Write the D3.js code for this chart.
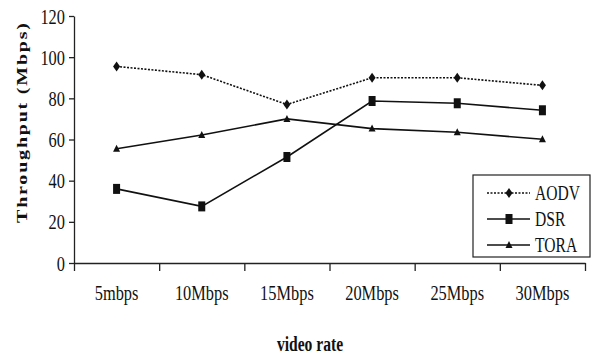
<!DOCTYPE html>
<html>
<head>
<meta charset="utf-8">
<script src="https://cdn.jsdelivr.net/npm/d3@7"></script>
<style>
  body { margin: 0; background: #fff; }
</style>
</head>
<body>
<div class="chart"></div>
<script>
// data
var rates = ["5mbps", "10Mbps", "15Mbps", "20Mbps", "25Mbps", "30Mbps"];
var aodv = [95.5, 91.5, 77, 90, 90, 86.3];
var dsr  = [36, 27.5, 51.5, 78.7, 77.6, 74.2];
var tora = [55.5, 62.2, 70, 65.3, 63.5, 60.1];
var yTicks = [0, 20, 40, 60, 80, 100, 120];

var width = 592,
    height = 356,
    sx = 0.78, // the original type is squeezed sideways
    font = "'Liberation Serif', 'Times New Roman', serif";

var svg = d3.select(".chart").append("svg")
    .attr("width", width)
    .attr("height", height);

var x = d3.scaleBand().domain(rates).range([74, 585]);
var edge = d3.scaleLinear().domain([0, rates.length]).range([74, 585]);
var y = d3.scaleLinear().domain([0, 120]).range([263, 16]);

function cx(d, i) { return x(rates[i]) + x.bandwidth() / 2; }

// y axis
var yAxis = svg.append("g")
    .attr("transform", "translate(74,0)")
    .call(d3.axisLeft(y).tickValues(yTicks).tickSize(5).tickSizeOuter(0));
yAxis.attr("font-family", font).attr("font-size", 20);
yAxis.selectAll("path, line").attr("stroke", "#222").attr("stroke-width", 1.3);
yAxis.selectAll("text")
    .attr("x", null).attr("dy", null)
    .attr("transform", "translate(-9,7) scale(" + sx + ",1)")
    .style("font-family", font)
    .style("font-size", "21px")
    .attr("fill", "#111");

// x axis: ticks at band edges, labels at band centres
var xAxis = svg.append("g")
    .attr("transform", "translate(0,263)")
    .call(d3.axisBottom(edge).ticks(rates.length).tickSize(8).tickSizeOuter(0).tickFormat(""));
xAxis.selectAll("path, line").attr("stroke", "#222").attr("stroke-width", 1.3);

svg.append("g").selectAll("text")
    .data(rates)
  .enter().append("text")
    .attr("text-anchor", "middle")
    .attr("fill", "#111")
    .attr("transform", function(d, i) { return "translate(" + cx(d, i) + ",300) scale(" + sx + ",1)"; })
    .style("font-family", font)
    .style("font-size", "21px")
    .text(function(d) { return d; });

// axis titles
svg.append("text")
    .attr("text-anchor", "middle")
    .attr("fill", "#111")
    .attr("transform", "translate(310,351) scale(0.78,1)")
    .style("font-family", font)
    .style("font-size", "20px")
    .style("font-weight", "bold")
    .text("video rate");

svg.append("text")
    .attr("text-anchor", "middle")
    .attr("fill", "#111")
    .attr("transform", "translate(27,123) rotate(-90) scale(1,0.78)")
    .attr("textLength", 200)
    .attr("lengthAdjust", "spacing")
    .style("font-family", font)
    .style("font-size", "20px")
    .style("font-weight", "bold")
    .text("Throughput (Mbps)");

// series
var line = d3.line()
    .x(function(d, i) { return cx(d, i); })
    .y(function(d) { return y(d); });

var series = [
  { name: "AODV", values: aodv, dash: "2,1.5", mark: "diamond" },
  { name: "DSR",  values: dsr,  dash: null,    mark: "square" },
  { name: "TORA", values: tora, dash: null,    mark: "triangle" }
];

function marker(g, type) {
  if (type === "diamond") {
    g.append("path").attr("d", "M0,-5L3.5,0L0,5L-3.5,0Z");
  } else if (type === "square") {
    g.append("rect").attr("x", -3.5).attr("y", -5).attr("width", 7).attr("height", 10);
  } else {
    g.append("path").attr("d", "M0,-4L3.5,3L-3.5,3Z");
  }
}

series.forEach(function(s) {
  svg.append("path")
      .datum(s.values)
      .attr("fill", "none")
      .attr("stroke", "#111")
      .attr("stroke-width", 1.6)
      .attr("stroke-dasharray", s.dash)
      .attr("d", line);

  s.values.forEach(function(v, i) {
    var g = svg.append("g")
        .attr("fill", "#111")
        .attr("transform", "translate(" + cx(v, i) + "," + y(v) + ")");
    marker(g, s.mark);
  });
});

// legend
var legend = svg.append("g").attr("transform", "translate(473,175)");
legend.append("rect")
    .attr("width", 117).attr("height", 82)
    .attr("fill", "#fff").attr("stroke", "#222").attr("stroke-width", 1.2);

series.forEach(function(s, i) {
  var ly = 18 + i * 26;
  legend.append("line")
      .attr("x1", 14).attr("x2", 57)
      .attr("y1", ly).attr("y2", ly)
      .attr("stroke", "#111").attr("stroke-width", 1.6)
      .attr("stroke-dasharray", s.dash);
  var g = legend.append("g").attr("fill", "#111").attr("transform", "translate(36," + ly + ")");
  marker(g, s.mark);
  legend.append("text")
      .attr("fill", "#111")
      .attr("transform", "translate(62," + (ly + 7) + ") scale(" + sx + ",1)")
      .style("font-family", font)
      .style("font-size", "20px")
      .text(s.name);
});
</script>
</body>
</html>
